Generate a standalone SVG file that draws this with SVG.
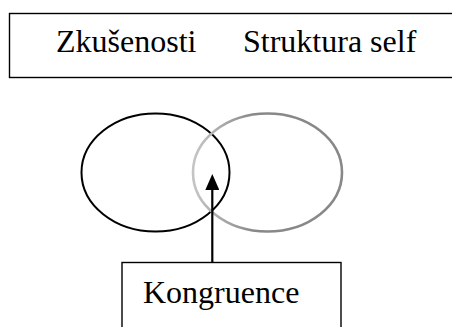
<svg xmlns="http://www.w3.org/2000/svg" width="452" height="327" viewBox="0 0 452 327">
  <style>
    .box { fill: #fff; stroke: #000; stroke-width: 1.4; }
    .label { font-family: "Liberation Serif", "Times New Roman", serif; font-size: 32px; fill: #000; }
    .conn { stroke: #000; stroke-width: 2.2; fill: none; }
  </style>
  <defs>
    <linearGradient id="selfStroke" gradientUnits="userSpaceOnUse" x1="195" y1="0" x2="255" y2="0">
      <stop offset="0" stop-color="#c4c4c4"/>
      <stop offset="1" stop-color="#888"/>
    </linearGradient>
    <marker id="arrowHead" viewBox="0 0 16 14" refX="4" refY="7" markerUnits="userSpaceOnUse" markerWidth="16" markerHeight="14" orient="auto">
      <path d="M0 0 L16 7 L0 14 Z" fill="#000"/>
    </marker>
  </defs>

  <g id="header">
    <rect class="box" x="9.5" y="13.5" width="460" height="64"/>
    <text class="label" x="56" y="52">Zkušenosti</text>
    <text class="label" x="243" y="52">Struktura self</text>
  </g>

  <g id="experience">
    <ellipse cx="155.5" cy="172.5" rx="74" ry="59" fill="none" stroke="#000" stroke-width="2"/>
  </g>

  <g id="self-structure">
    <ellipse cx="267.5" cy="172.5" rx="74.5" ry="59" fill="none" stroke="url(#selfStroke)" stroke-width="2.6"/>
  </g>

  <g id="connectors">
    <line class="conn" x1="212.3" y1="262" x2="212.3" y2="186" marker-end="url(#arrowHead)"/>
  </g>

  <g id="congruence">
    <rect class="box" x="122" y="262.5" width="219" height="80"/>
    <text class="label" x="143" y="303">Kongruence</text>
  </g>
</svg>
